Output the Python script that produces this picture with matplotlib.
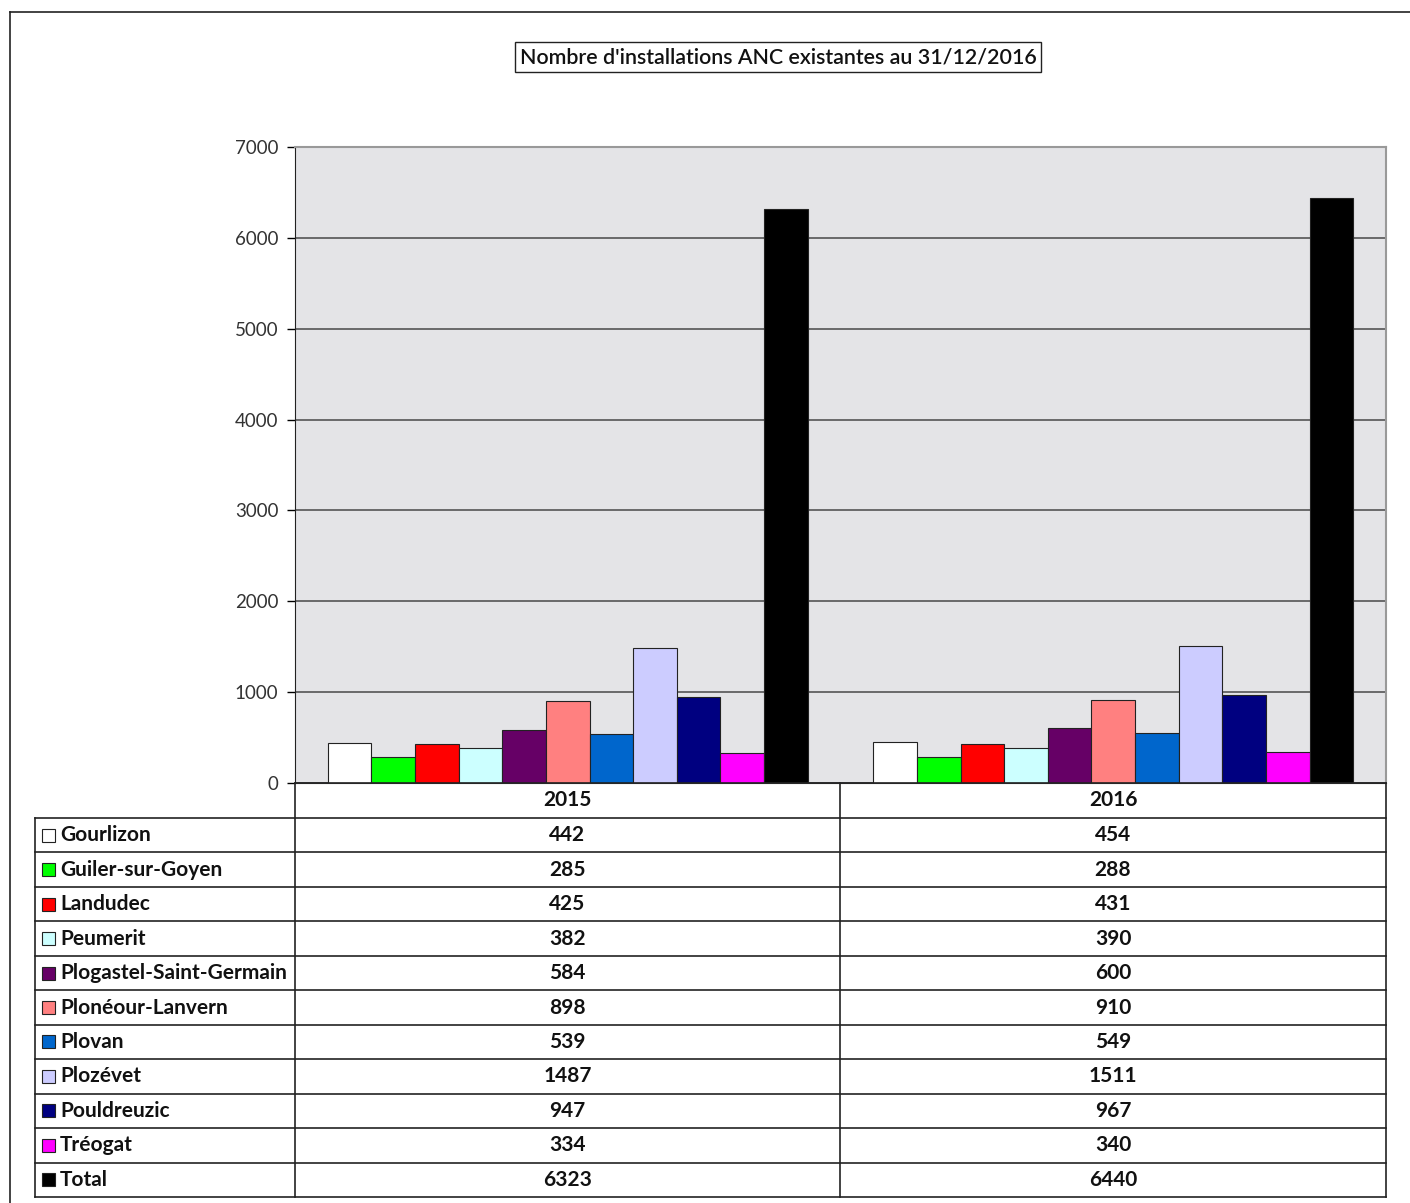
import matplotlib

matplotlib.use("Agg")

import matplotlib.pyplot as plt  # noqa: E402
from matplotlib.lines import Line2D  # noqa: E402
from matplotlib.patches import Rectangle  # noqa: E402
import numpy as np  # noqa: E402

plt.rcParams["font.family"] = ["Lato", "DejaVu Sans"]

# --- data -----------------------------------------------------------------
years = ["2015", "2016"]
communes = [
    "Gourlizon", "Guiler-sur-Goyen", "Landudec", "Peumerit",
    "Plogastel-Saint-Germain", "Plonéour-Lanvern", "Plovan", "Plozévet",
    "Pouldreuzic", "Tréogat", "Total",
]
values_2015 = [442, 285, 425, 382, 584, 898, 539, 1487, 947, 334, 6323]
values_2016 = [454, 288, 431, 390, 600, 910, 549, 1511, 967, 340, 6440]
colors = [
    "#FFFFFF", "#00FF00", "#FF0000", "#CCFFFF", "#660066", "#FF8080",
    "#0066CC", "#CCCCFF", "#000080", "#FF00FF", "#000000",
]
yticks = [0, 1000, 2000, 3000, 4000, 5000, 6000, 7000]
title = "Nombre d'installations ANC existantes au 31/12/2016"

W, H = 1410, 1203
fig = plt.figure(figsize=(W / 100, H / 100), dpi=100)
fig.patch.set_facecolor("white")


def fx(px):
    return px / W


def fy(py):
    return 1 - py / H


# plot area in pixels
L, R, T, B = 295, 1386, 147, 783
ax = fig.add_axes([fx(L), fy(B), fx(R) - fx(L), fy(T) - fy(B)])
ax.set_facecolor("#e4e4e7")

n = len(communes)
bar_w = 0.88 / n
x = np.arange(len(years))
series = np.array([values_2015, values_2016]).T
for i in range(n):
    ax.bar(x - 0.44 + bar_w * (i + 0.5), series[i], width=bar_w,
           color=colors[i], edgecolor="#222222", linewidth=0.8, zorder=3)

ax.set_xlim(-0.5, 1.5)
ax.set_ylim(0, 7000)
ax.set_yticks(yticks)
ax.set_xticks([])
ax.tick_params(axis="y", length=6, width=1, labelsize=13.5,
               labelcolor="#333333", pad=6)
ax.grid(axis="y", color="#555555", linewidth=1.2, zorder=1)
ax.set_axisbelow(True)
for side in ["top", "right"]:
    ax.spines[side].set_color("#999999")
    ax.spines[side].set_linewidth(1.5)
ax.spines["left"].set_color("#222222")
ax.spines["bottom"].set_color("#444444")

# --- title ---------------------------------------------------------------
fig.text(fx(778), fy(57), title, ha="center", va="center", fontsize=15.4,
         color="#111111", fontweight="semibold",
         bbox=dict(boxstyle="square,pad=0.22", fc="white", ec="#222222", lw=1))

# --- outer frame ---------------------------------------------------------
fig.add_artist(Line2D([fx(10), fx(10)], [fy(12), fy(1203)], color="#222222",
                      lw=1.2))
fig.add_artist(Line2D([fx(10), fx(1410)], [fy(12), fy(12)], color="#222222",
                      lw=1.2))

# --- data table ----------------------------------------------------------
col_mid = 840
row_top = 818
row_bot = 1197
row_h = (row_bot - row_top) / n
tl = 35
lw = 1.2
lc = "#222222"
fs = 15


def hline(py, x0, x1):
    fig.add_artist(Line2D([fx(x0), fx(x1)], [fy(py), fy(py)], color=lc, lw=lw))


def vline(px, y0, y1):
    fig.add_artist(Line2D([fx(px), fx(px)], [fy(y0), fy(y1)], color=lc, lw=lw))


vline(L, B, row_bot)
vline(col_mid, B, row_bot)
vline(R, B, row_bot)
vline(tl, row_top, row_bot)
for k in range(n + 1):
    hline(row_top + k * row_h, tl, R)
hline(B, L, R)

for j, yr in enumerate(years):
    cx = (L + col_mid) / 2 if j == 0 else (col_mid + R) / 2
    fig.text(fx(cx), fy((B + row_top) / 2), yr, ha="center", va="center",
             fontsize=fs, fontweight="bold", color="#111111")

for i, name in enumerate(communes):
    cy = row_top + (i + 0.5) * row_h
    sq = 13
    fig.add_artist(Rectangle((fx(42), fy(cy + sq / 2)), fx(sq), sq / H,
                             transform=fig.transFigure, fc=colors[i],
                             ec="#222222", lw=0.8))
    fig.text(fx(60), fy(cy), name, ha="left", va="center", fontsize=fs,
             fontweight="bold", color="#111111")
    fig.text(fx((L + col_mid) / 2), fy(cy), str(values_2015[i]), ha="center",
             va="center", fontsize=fs, fontweight="bold", color="#111111")
    fig.text(fx((col_mid + R) / 2), fy(cy), str(values_2016[i]), ha="center",
             va="center", fontsize=fs, fontweight="bold", color="#111111")

fig.savefig("out.png", dpi=100, facecolor="white")
